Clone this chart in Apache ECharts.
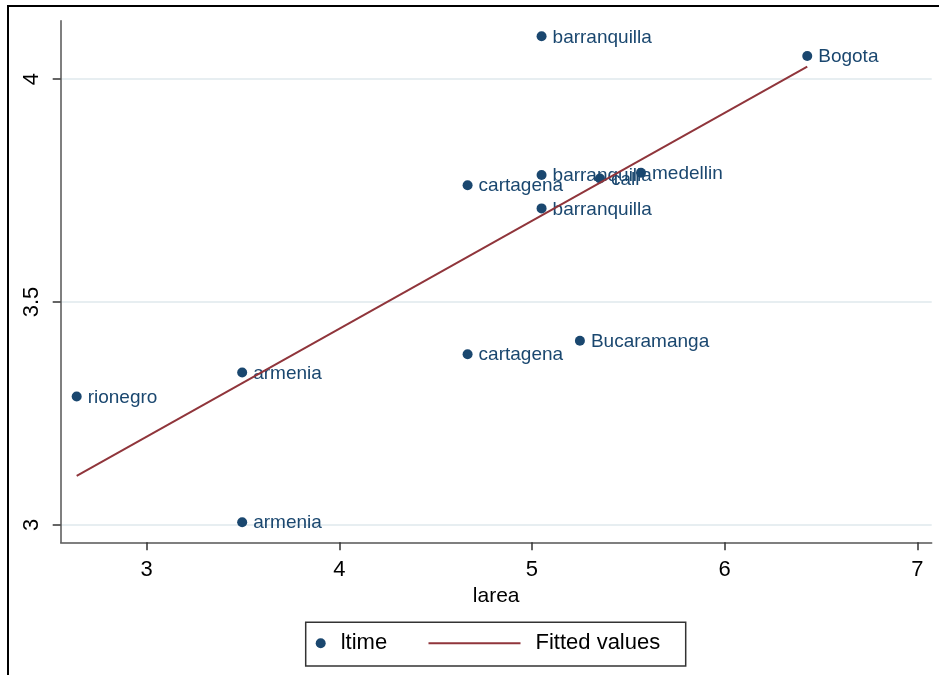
<!DOCTYPE html>
<html>
<head>
<meta charset="utf-8">
<script src="https://cdn.jsdelivr.net/npm/echarts@6/dist/echarts.min.js"></script>
<style>
  html, body { margin: 0; padding: 0; background: #fff; }
  #chart { width: 939px; height: 675px; }
</style>
</head>
<body>
<div id="chart"></div>
<script>
// City observations: log area (larea) vs ltime
const cities = ['barranquilla', 'Bogota', 'barranquilla', 'cali', 'medellin', 'cartagena',
                'barranquilla', 'Bucaramanga', 'cartagena', 'armenia', 'rionegro', 'armenia'];
const larea  = [5.050, 6.429, 5.050, 5.353, 5.566, 4.666, 5.050, 5.249, 4.666, 3.496, 2.637, 3.496];
const ltime  = [4.096, 4.052, 3.785, 3.777, 3.790, 3.762, 3.710, 3.413, 3.383, 3.342, 3.288, 3.006];

// Linear fit endpoints (at min and max larea)
const fitX = [2.637, 6.429];
const fitY = [3.110, 4.028];

// Axis ticks
const xTicks = [3, 4, 5, 6, 7];
const yTicks = [3, 3.5, 4];

const navy = '#1a476f';
const maroon = '#90353b';
const font = 'Liberation Sans, Arial, sans-serif';

const scatterData = larea.map((x, i) => ({ name: cities[i], value: [x, ltime[i]] }));
const fitData = fitX.map((x, i) => [x, fitY[i]]);

const chart = echarts.init(document.getElementById('chart'), null, { renderer: 'canvas' });

chart.setOption({
  animation: false,
  backgroundColor: '#fff',
  textStyle: { fontFamily: font },
  grid: { left: 60.7, right: 7.3, top: 20.7, bottom: 132.7 },
  xAxis: {
    type: 'value',
    min: 2.554,
    max: 7.075,
    name: 'larea',
    nameLocation: 'middle',
    nameGap: 43,
    nameTextStyle: { fontSize: 21, color: '#000', fontFamily: font },
    axisLine: { lineStyle: { color: '#555', width: 1.5 } },
    axisTick: { customValues: xTicks, length: 8, lineStyle: { color: '#333', width: 1.5 } },
    axisLabel: { customValues: xTicks, fontSize: 22, color: '#000', margin: 17, fontFamily: font },
    splitLine: { show: false }
  },
  yAxis: {
    type: 'value',
    min: 2.961,
    max: 4.131,
    axisLine: { show: true, lineStyle: { color: '#555', width: 1.5 } },
    axisTick: { show: true, customValues: yTicks, length: 8, lineStyle: { color: '#333', width: 1.5 } },
    axisLabel: { customValues: yTicks, fontSize: 22, color: '#000', rotate: 90, margin: 18, fontFamily: font },
    splitLine: { show: true, lineStyle: { color: '#dfe8ed', width: 1.5 } }
  },
  legend: [
    {
      data: [{ name: 'ltime', icon: 'circle' }],
      left: 315.7,
      top: 632.3,
      padding: 0,
      itemWidth: 10,
      itemHeight: 10,
      selectedMode: false,
      itemStyle: { opacity: 1 },
      textStyle: { fontSize: 22, color: '#000', fontFamily: font, padding: [0, 0, 0, 10] }
    },
    {
      data: [{ name: 'Fitted values', icon: 'rect' }],
      left: 428.5,
      top: 632.3,
      padding: 0,
      itemWidth: 92,
      itemHeight: 2,
      selectedMode: false,
      textStyle: { fontSize: 22, color: '#000', fontFamily: font, padding: [0, 0, 0, 10] }
    }
  ],
  graphic: [
    {
      type: 'polyline',
      silent: true,
      shape: { points: [[8, 675], [8, 6], [939, 6]] },
      style: { stroke: '#000', lineWidth: 2, fill: null }
    },
    {
      type: 'rect',
      silent: true,
      shape: { x: 305.7, y: 622.3, width: 380, height: 43.7 },
      style: { stroke: '#333', lineWidth: 1.5, fill: null }
    }
  ],
  series: [
    {
      name: 'ltime',
      type: 'scatter',
      z: 2,
      symbol: 'circle',
      symbolSize: 10,
      itemStyle: { color: navy, opacity: 1 },
      label: {
        show: true,
        position: 'right',
        distance: 6,
        offset: [0, 1],
        formatter: '{b}',
        fontSize: 19,
        color: navy,
        fontFamily: font
      },
      emphasis: { disabled: true },
      data: scatterData
    },
    {
      name: 'Fitted values',
      type: 'line',
      z: 3,
      symbol: 'none',
      silent: true,
      lineStyle: { color: maroon, width: 2 },
      itemStyle: { color: maroon },
      emphasis: { disabled: true },
      data: fitData
    }
  ]
});
</script>
</body>
</html>
